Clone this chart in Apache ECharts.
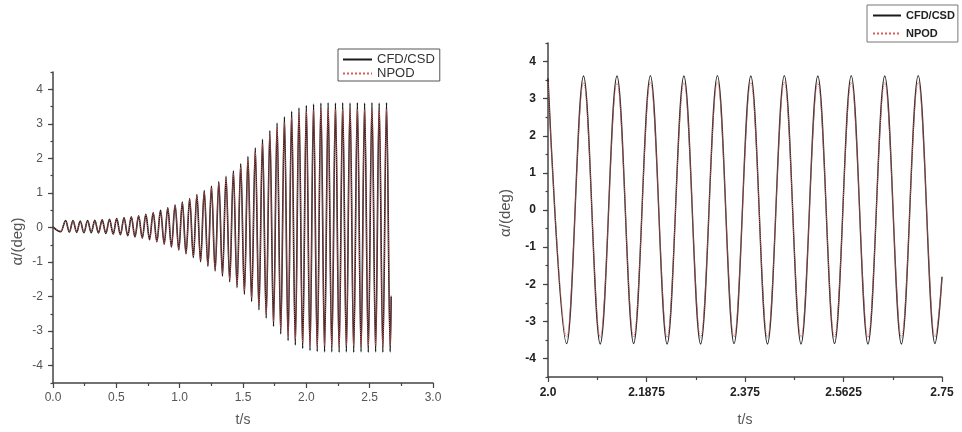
<!DOCTYPE html>
<html><head><meta charset="utf-8">
<script src="https://cdn.jsdelivr.net/npm/echarts@6/dist/echarts.min.js"></script>
<style>html,body{margin:0;padding:0;background:#fff}#c{width:962px;height:432px}</style>
</head><body><div id="c"></div>
<script>
// ---- data (extrema of the oscillation) ----
const leftT = [0.000, 0.062, 0.100, 0.129, 0.158, 0.187, 0.215, 0.244, 0.273, 0.302, 0.330, 0.359, 0.388, 0.417, 0.446, 0.475, 0.503, 0.532, 0.561, 0.590, 0.618, 0.647, 0.676, 0.705, 0.733, 0.762, 0.791, 0.820, 0.849, 0.878, 0.906, 0.935, 0.964, 0.993, 1.021, 1.050, 1.079, 1.108, 1.136, 1.165, 1.194, 1.223, 1.251, 1.280, 1.309, 1.338, 1.366, 1.395, 1.424, 1.453, 1.482, 1.511, 1.539, 1.568, 1.597, 1.626, 1.654, 1.683, 1.712, 1.741, 1.769, 1.798, 1.827, 1.856, 1.884, 1.913, 1.942, 1.971, 2.000, 2.029, 2.057, 2.086, 2.115, 2.144, 2.172, 2.201, 2.230, 2.259, 2.287, 2.316, 2.345, 2.374, 2.403, 2.432, 2.460, 2.489, 2.518, 2.547, 2.575, 2.604, 2.633, 2.662, 2.670];
const leftCFD = [0.02, -0.12,
  0.20, -0.13, 0.20, -0.14, 0.19, -0.15, 0.20, -0.15, 0.21, -0.16, 0.22, -0.17, 0.24, -0.19, 0.26, -0.21, 0.28, -0.24, 0.31, -0.27,
  0.34, -0.31, 0.38, -0.35, 0.43, -0.41, 0.50, -0.48, 0.57, -0.56, 0.65, -0.65, 0.74, -0.76, 0.84, -0.87, 0.95, -0.99, 1.07, -1.12,
  1.20, -1.26, 1.33, -1.41, 1.48, -1.57, 1.64, -1.74, 1.84, -1.93, 2.05, -2.14, 2.30, -2.38, 2.55, -2.62, 2.80, -2.86, 3.02, -3.08,
  3.20, -3.27, 3.36, -3.40, 3.46, -3.50, 3.53, -3.56, 3.57, -3.59, 3.60, -3.60, 3.61, -3.60, 3.60, -3.61, 3.61, -3.60, 3.60, -3.61,
  3.61, -3.60, 3.60, -3.61, 3.61, -3.60, 3.60, -3.61, 3.61, -3.60,
  -2.00];
const leftNPOD = [0.02, -0.11,
  0.19, -0.12, 0.19, -0.13, 0.18, -0.14, 0.19, -0.14, 0.20, -0.15, 0.21, -0.16, 0.23, -0.18, 0.25, -0.20, 0.27, -0.23, 0.30, -0.26,
  0.33, -0.30, 0.37, -0.34, 0.42, -0.40, 0.48, -0.46, 0.55, -0.54, 0.63, -0.63, 0.71, -0.73, 0.81, -0.83, 0.91, -0.95, 1.02, -1.07,
  1.14, -1.20, 1.27, -1.34, 1.41, -1.49, 1.56, -1.65, 1.74, -1.83, 1.95, -2.03, 2.18, -2.26, 2.42, -2.49, 2.66, -2.72, 2.87, -2.93,
  3.04, -3.11, 3.19, -3.23, 3.29, -3.33, 3.36, -3.39, 3.40, -3.42, 3.42, -3.42, 3.43, -3.42, 3.42, -3.43, 3.43, -3.42, 3.42, -3.43,
  3.43, -3.42, 3.42, -3.43, 3.43, -3.42, 3.42, -3.43, 3.43, -3.42,
  -1.95];

const rightT = [2.0000, 2.0356, 2.0676, 2.0994, 2.1313, 2.1630, 2.1949, 2.2267, 2.2587, 2.2905, 2.3225, 2.3541, 2.3861, 2.4178, 2.4498, 2.4816, 2.5136, 2.5454, 2.5772, 2.6090, 2.6410, 2.6727, 2.7047, 2.7365, 2.7500];
const rightCFD = [3.55, -3.60, 3.61, -3.61, 3.61, -3.60, 3.62, -3.61, 3.61, -3.61, 3.62, -3.60, 3.61, -3.61, 3.62, -3.61, 3.61, -3.60, 3.62, -3.61, 3.61, -3.61, 3.62, -3.60, -1.80];
const rightNPOD = [3.45, -3.42, 3.43, -3.43, 3.43, -3.42, 3.44, -3.43, 3.43, -3.43, 3.44, -3.42, 3.43, -3.43, 3.44, -3.43, 3.43, -3.42, 3.44, -3.43, 3.43, -3.43, 3.44, -3.42, -1.85];

const seriesNames = ['CFD/CSD', 'NPOD'];
const leftXLabels = ['0.0', '0.5', '1.0', '1.5', '2.0', '2.5', '3.0'];
const rightXLabels = ['2.0', '2.1875', '2.375', '2.5625', '2.75'];
const yTickValues = [-4, -3, -2, -1, 0, 1, 2, 3, 4];
const yLabel = 'α/(deg)';
const xLabel = 't/s';

// ---- chart ----
const FONT = 'Liberation Sans, Arial, sans-serif';
const AX = '#444';
const CFD_COLOR = '#1a1a1a';
const NPOD_COLOR = '#dc5c5c';
const pairs = (t, v) => t.map((x, i) => [x, v[i]]);

function yAxes(grid, bold, gap, margin, namePad) {
  return [
    { gridIndex: grid, type: 'value', position: 'left', min: -4.5, max: 4.5, interval: 0.5,
      name: yLabel, nameLocation: 'middle', nameGap: gap, nameRotate: 90,
      nameTextStyle: { fontFamily: FONT, fontSize: 15, color: '#555', padding: namePad },
      axisLine: { show: true, lineStyle: { color: AX, width: 1.5 } },
      axisTick: { show: true, length: 2.5, lineStyle: { color: AX, width: 1.2 } },
      axisLabel: { customValues: yTickValues, margin: margin, fontFamily: FONT, fontSize: 12,
        fontWeight: bold ? 'bold' : 'normal', color: bold ? '#222' : '#555' },
      splitLine: { show: false } },
    { gridIndex: grid, type: 'value', position: 'left', min: -4.5, max: 4.5, interval: 0.5,
      axisLine: { show: false },
      axisTick: { show: true, length: 5, customValues: yTickValues, lineStyle: { color: AX, width: 1.2 } },
      axisLabel: { show: false }, splitLine: { show: false } }
  ];
}

function lineSeries(name, xi, yi, data, color, width, type) {
  return { name: name, type: 'line', xAxisIndex: xi, yAxisIndex: yi, data: data,
    symbol: 'none', showSymbol: false, smooth: 0.36, smoothMonotone: 'x',
    itemStyle: { color: color, opacity: 0 },
    lineStyle: { color: color, width: width, type: type } };
}

const chart = echarts.init(document.getElementById('c'));
chart.setOption({
  animation: false,
  backgroundColor: '#fff',
  grid: [
    { left: 53, top: 72, width: 380, height: 312 },
    { left: 548, top: 43, width: 394, height: 335 }
  ],
  legend: [
    { left: 338, top: 49, orient: 'vertical', data: seriesNames, itemWidth: 29, itemHeight: 10, itemGap: 1,
      padding: [4, 5, 1, 4], borderColor: '#555', borderWidth: 1, itemStyle: { opacity: 0 },
      textStyle: { fontFamily: FONT, fontSize: 13, color: '#333' } },
    { left: 867, top: 5, orient: 'vertical', data: seriesNames, itemWidth: 28, itemHeight: 10, itemGap: 7,
      padding: [5, 3, 3, 5], borderColor: '#777', borderWidth: 1, itemStyle: { opacity: 0 },
      textStyle: { fontFamily: FONT, fontSize: 11, fontWeight: 'bold', color: '#222' } }
  ],
  xAxis: [
    { gridIndex: 0, type: 'value', min: 0, max: 3, interval: 0.5,
      name: xLabel, nameLocation: 'middle', nameGap: 30,
      nameTextStyle: { fontFamily: FONT, fontSize: 14, color: '#555' },
      axisLine: { show: true, onZero: false, lineStyle: { color: AX, width: 1.5 } },
      axisTick: { show: true, length: 5, lineStyle: { color: AX, width: 1.2 } },
      minorTick: { show: true, splitNumber: 2, length: 3, lineStyle: { color: AX, width: 1.2 } },
      axisLabel: { margin: 9, fontFamily: FONT, fontSize: 12, color: '#555',
        formatter: v => leftXLabels[Math.round(v / 0.5)] },
      splitLine: { show: false } },
    { gridIndex: 1, type: 'value', min: 2.0, max: 2.75, interval: 0.1875,
      name: xLabel, nameLocation: 'middle', nameGap: 36,
      nameTextStyle: { fontFamily: FONT, fontSize: 14, color: '#555' },
      axisLine: { show: true, onZero: false, lineStyle: { color: AX, width: 1.5 } },
      axisTick: { show: true, length: 5, lineStyle: { color: AX, width: 1.2 } },
      minorTick: { show: true, splitNumber: 2, length: 3, lineStyle: { color: AX, width: 1.2 } },
      axisLabel: { margin: 10, fontFamily: FONT, fontSize: 12, fontWeight: 'bold', color: '#222',
        formatter: v => rightXLabels[Math.round((v - 2) / 0.1875)] },
      splitLine: { show: false } }
  ],
  yAxis: [].concat(yAxes(0, false, 28, 10, [0, 28, 0, 0]), yAxes(1, true, 35, 12, [0, 6, 0, 0])),
  series: [
    lineSeries(seriesNames[0], 0, 0, pairs(leftT, leftCFD), CFD_COLOR, 1.6, 'solid'),
    lineSeries(seriesNames[1], 0, 0, pairs(leftT, leftNPOD), NPOD_COLOR, 1, 'dotted'),
    lineSeries(seriesNames[0], 1, 2, pairs(rightT, rightCFD), '#2a2a2a', 1.4, 'solid'),
    lineSeries(seriesNames[1], 1, 2, pairs(rightT, rightNPOD), NPOD_COLOR, 1, 'dotted')
  ]
});
</script>
</body></html>
